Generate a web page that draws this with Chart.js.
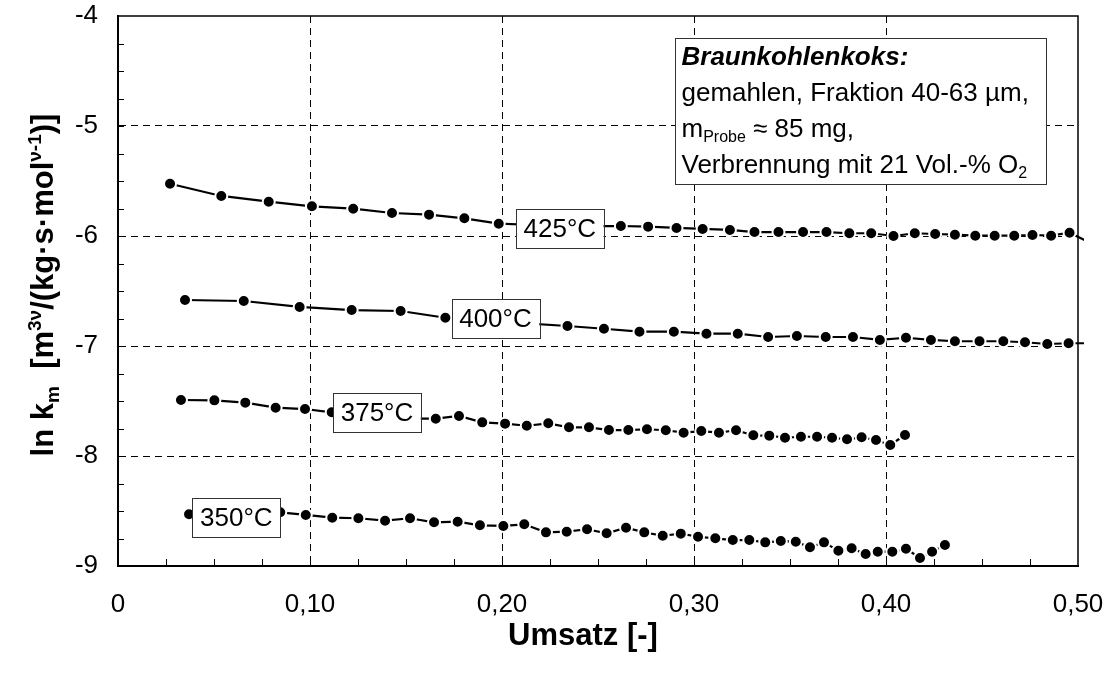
<!DOCTYPE html>
<html>
<head>
<meta charset="utf-8">
<script src="https://cdn.jsdelivr.net/npm/chart.js@4.4.1/dist/chart.umd.min.js"></script>
<style>
  html, body { margin: 0; padding: 0; background: #fff; }
  #wrap { width: 1109px; height: 680px; }
</style>
</head>
<body>
<div id="wrap"><canvas id="c" width="1109" height="680"></canvas></div>
<script>
const FONT = '"Liberation Sans", Arial, Helvetica, sans-serif';

// Umsatz (conversion) and ln k_m for each combustion temperature
const x425 = [0.0271, 0.0538, 0.0785, 0.1010, 0.1225, 0.1427, 0.1620, 0.1804, 0.1983, 0.2172, 0.2302, 0.2432,
  0.2619, 0.2761, 0.2909, 0.3045, 0.3187, 0.3315, 0.3440, 0.3568, 0.3690, 0.3809, 0.3923, 0.4039, 0.4150,
  0.4256, 0.4359, 0.4465, 0.4566, 0.4668, 0.4763, 0.4860, 0.4956, 0.5042];
const y425 = [-5.525, -5.636, -5.688, -5.730, -5.752, -5.791, -5.806, -5.839, -5.888, -5.900, -5.905, -5.910,
  -5.909, -5.915, -5.927, -5.936, -5.945, -5.964, -5.964, -5.964, -5.964, -5.975, -5.975, -6.000, -5.975,
  -5.982, -5.988, -5.997, -5.997, -5.997, -5.991, -5.997, -5.970, -6.043];

const x400 = [0.0349, 0.0655, 0.0946, 0.1217, 0.1472, 0.1705, 0.1875, 0.2042, 0.2341, 0.2531, 0.2716, 0.2895,
  0.3065, 0.3228, 0.3386, 0.3536, 0.3686, 0.3828, 0.3968, 0.4104, 0.4234, 0.4359, 0.4487, 0.4611, 0.4724,
  0.4840, 0.4951, 0.5042];
const y400 = [-6.582, -6.591, -6.645, -6.673, -6.682, -6.743, -6.760, -6.785, -6.818, -6.843, -6.870, -6.870,
  -6.888, -6.888, -6.918, -6.909, -6.918, -6.918, -6.945, -6.925, -6.945, -6.957, -6.957, -6.957, -6.966,
  -6.982, -6.975, -6.975];

const x375 = [0.0328, 0.0502, 0.0663, 0.0821, 0.0974, 0.1113, 0.1245, 0.1380, 0.1516, 0.1655, 0.1776, 0.1897,
  0.2016, 0.2129, 0.2241, 0.2349, 0.2453, 0.2557, 0.2658, 0.2755, 0.2853, 0.2946, 0.3038, 0.3130, 0.3219,
  0.3309, 0.3392, 0.3474, 0.3557, 0.3641, 0.3719, 0.3797, 0.3873, 0.3948, 0.4022, 0.4099];
const y375 = [-7.491, -7.494, -7.515, -7.561, -7.573, -7.603, -7.620, -7.640, -7.660, -7.661, -7.636, -7.694,
  -7.706, -7.725, -7.703, -7.739, -7.739, -7.764, -7.764, -7.757, -7.766, -7.788, -7.773, -7.788, -7.766,
  -7.812, -7.815, -7.834, -7.825, -7.825, -7.834, -7.848, -7.830, -7.855, -7.900, -7.809];

const x350 = [0.0370, 0.0495, 0.0620, 0.0745, 0.0845, 0.0978, 0.1116, 0.1252, 0.1391, 0.1521, 0.1646, 0.1769,
  0.1885, 0.2007, 0.2116, 0.2229, 0.2337, 0.2443, 0.2545, 0.2646, 0.2741, 0.2837, 0.2931, 0.3021, 0.3111,
  0.3202, 0.3288, 0.3371, 0.3452, 0.3530, 0.3604, 0.3677, 0.3752, 0.3821, 0.3894, 0.3957, 0.4033, 0.4104,
  0.4177, 0.4240, 0.4307];
const y350 = [-8.530, -8.530, -8.530, -8.520, -8.512, -8.536, -8.561, -8.566, -8.588, -8.566, -8.603, -8.597,
  -8.630, -8.636, -8.621, -8.694, -8.688, -8.666, -8.703, -8.652, -8.694, -8.725, -8.706, -8.734, -8.748,
  -8.764, -8.764, -8.785, -8.773, -8.779, -8.830, -8.785, -8.861, -8.839, -8.891, -8.870, -8.870, -8.843,
  -8.927, -8.870, -8.809];

const seriesNames = ['425°C', '400°C', '375°C', '350°C'];
const seriesX = [x425, x400, x375, x350];
const seriesY = [y425, y400, y375, y350];

// where each temperature tag sits (data units, box centre)
const tagX = [0.2301, 0.1966, 0.1349, 0.0616];
const tagY = [-5.935, -6.750, -7.609, -8.559];

const xTickLabels = ['0', '0,10', '0,20', '0,30', '0,40', '0,50'];
const yTickLabels = ['-9', '-8', '-7', '-6', '-5', '-4'];

// info box corners in data units
const noteBox = { x0: 0.2901, x1: 0.4833, y0: -4.200, y1: -5.527 };

const datasets = seriesNames.map((name, s) => ({
  label: name,
  data: seriesX[s].map((x, i) => ({ x: x, y: seriesY[s][i] })),
  showLine: true,
  borderColor: '#000',
  borderWidth: 2.2,
  tension: 0,
  pointRadius: 6,
  pointHoverRadius: 6,
  pointBackgroundColor: '#000',
  pointBorderColor: '#fff',
  pointBorderWidth: 2,
  clip: { left: 0, top: 0, right: 6, bottom: 0 }
}));

function isMajorInside(v, lo, hi, step) {
  const k = Math.round((v - lo) / step);
  return Math.abs(v - (lo + k * step)) < 1e-6 && v > lo + 1e-6 && v < hi - 1e-6;
}

// draws a run of text pieces (normal / sub / superscript) starting at x on baseline y
function drawRuns(ctx, runs, x, y) {
  let cx = x;
  runs.forEach(r => {
    ctx.font = r.font;
    ctx.fillText(r.t, cx, y + (r.dy || 0));
    cx += ctx.measureText(r.t).width;
  });
  return cx;
}
function runsWidth(ctx, runs) {
  let w = 0;
  runs.forEach(r => { ctx.font = r.font; w += ctx.measureText(r.t).width; });
  return w;
}

const decor = {
  id: 'decor',
  beforeDatasetsDraw(chart) {
    const { ctx, chartArea: a, scales: { x, y } } = chart;
    ctx.save();
    ctx.strokeStyle = '#000';
    ctx.lineWidth = 1;
    // inward minor ticks on the bottom axis
    for (let k = 1; k < 20; k++) {
      const px = Math.round(x.getPixelForValue(k * 0.025)) + 0.5;
      ctx.beginPath();
      ctx.moveTo(px, a.bottom);
      ctx.lineTo(px, a.bottom - 7);
      ctx.stroke();
    }
    // inward minor ticks on the left axis
    for (let k = 1; k < 20; k++) {
      const py = Math.round(y.getPixelForValue(-9 + k * 0.25)) + 0.5;
      ctx.beginPath();
      ctx.moveTo(a.left, py);
      ctx.lineTo(a.left + 6, py);
      ctx.stroke();
    }
    // top and right frame
    ctx.lineWidth = 1.5;
    ctx.beginPath();
    ctx.moveTo(a.left, a.top);
    ctx.lineTo(a.right, a.top);
    ctx.lineTo(a.right, a.bottom);
    ctx.stroke();
    ctx.restore();
  },
  afterDatasetsDraw(chart) {
    const { ctx, chartArea: a, scales: { x, y } } = chart;
    ctx.save();
    ctx.fillStyle = '#000';

    // temperature tags
    ctx.font = '26px ' + FONT;
    ctx.textAlign = 'center';
    ctx.textBaseline = 'middle';
    seriesNames.forEach((name, i) => {
      const cx = x.getPixelForValue(tagX[i]);
      const cy = y.getPixelForValue(tagY[i]);
      const w = ctx.measureText(name).width + 15;
      const h = 39;
      ctx.fillStyle = '#fff';
      ctx.fillRect(cx - w / 2, cy - h / 2, w, h);
      ctx.strokeStyle = '#333';
      ctx.lineWidth = 1;
      ctx.strokeRect(Math.round(cx - w / 2) + 0.5, Math.round(cy - h / 2) + 0.5, Math.round(w), h);
      ctx.fillStyle = '#000';
      ctx.fillText(name, cx, cy + 1);
    });

    // info box
    const bx0 = Math.round(x.getPixelForValue(noteBox.x0)) + 0.5;
    const bx1 = Math.round(x.getPixelForValue(noteBox.x1)) + 0.5;
    const by0 = Math.round(y.getPixelForValue(noteBox.y0)) + 0.5;
    const by1 = Math.round(y.getPixelForValue(noteBox.y1)) + 0.5;
    ctx.fillStyle = '#fff';
    ctx.fillRect(bx0, by0, bx1 - bx0, by1 - by0);
    ctx.strokeStyle = '#333';
    ctx.lineWidth = 1;
    ctx.strokeRect(bx0, by0, bx1 - bx0, by1 - by0);
    ctx.fillStyle = '#000';
    ctx.textAlign = 'left';
    ctx.textBaseline = 'alphabetic';
    const tx = bx0 + 6;
    const f = '26px ' + FONT;
    const fs = '16px ' + FONT;
    drawRuns(ctx, [{ t: 'Braunkohlenkoks:', font: 'italic bold 26px ' + FONT }], tx, by0 + 26);
    drawRuns(ctx, [{ t: 'gemahlen, Fraktion 40-63 µm,', font: f }], tx, by0 + 62);
    drawRuns(ctx, [{ t: 'm', font: f }, { t: 'Probe', font: fs, dy: 5 }, { t: ' ≈ 85 mg,', font: f }], tx, by0 + 98);
    drawRuns(ctx, [{ t: 'Verbrennung mit 21 Vol.-% O', font: f }, { t: '2', font: fs, dy: 5 }], tx, by0 + 134);

    // axis titles
    const big = 'bold 31px ' + FONT;
    const small = 'bold 19px ' + FONT;
    const xt = [{ t: 'Umsatz [-]', font: big }];
    ctx.fillStyle = '#000';
    drawRuns(ctx, xt, (a.left + a.right) / 2 - 15 - runsWidth(ctx, xt) / 2, 645);

    const yt = [
      { t: 'ln k', font: big },
      { t: 'm', font: small, dy: 6 },
      { t: '  [m', font: big },
      { t: '3ν', font: small, dy: -12 },
      { t: '/(kg·s·mol', font: big },
      { t: 'ν-1', font: small, dy: -12 },
      { t: ')]', font: big }
    ];
    ctx.save();
    ctx.translate(53, (a.top + a.bottom) / 2 - 6);
    ctx.rotate(-Math.PI / 2);
    drawRuns(ctx, yt, -runsWidth(ctx, yt) / 2, 0);
    ctx.restore();

    ctx.restore();
  }
};

new Chart(document.getElementById('c'), {
  type: 'scatter',
  data: { datasets: datasets },
  options: {
    responsive: false,
    animation: false,
    devicePixelRatio: 1,
    layout: { padding: { top: 16, right: 31, left: 0, bottom: 0 } },
    plugins: { legend: { display: false }, tooltip: { enabled: false } },
    events: [],
    scales: {
      x: {
        type: 'linear',
        min: 0,
        max: 0.5,
        afterFit(s) { s.height = 114; s.paddingLeft = 0; s.paddingRight = 0; },
        ticks: {
          stepSize: 0.1,
          autoSkip: false,
          maxRotation: 0,
          padding: 23,
          color: '#000',
          font: { family: FONT, size: 26 },
          callback: (v) => xTickLabels[Math.round(v * 10)] ?? ''
        },
        grid: {
          drawTicks: false,
          lineWidth: 1,
          color: (c) => (c.tick && isMajorInside(c.tick.value, 0, 0.5, 0.1)) ? '#000' : 'rgba(0,0,0,0)'
        },
        border: { display: true, color: '#000', width: 2, dash: [7, 5] }
      },
      y: {
        type: 'linear',
        min: -9,
        max: -4,
        afterFit(s) { s.width = 118; s.paddingTop = 0; s.paddingBottom = 0; },
        ticks: {
          stepSize: 1,
          padding: 20,
          color: '#000',
          font: { family: FONT, size: 26 },
          callback: (v) => yTickLabels[Math.round(v + 9)] ?? ''
        },
        grid: {
          drawTicks: false,
          lineWidth: 1,
          color: (c) => (c.tick && isMajorInside(c.tick.value, -9, -4, 1)) ? '#000' : 'rgba(0,0,0,0)'
        },
        border: { display: true, color: '#000', width: 2, dash: [7, 5] }
      }
    }
  },
  plugins: [decor]
});
</script>
</body>
</html>
